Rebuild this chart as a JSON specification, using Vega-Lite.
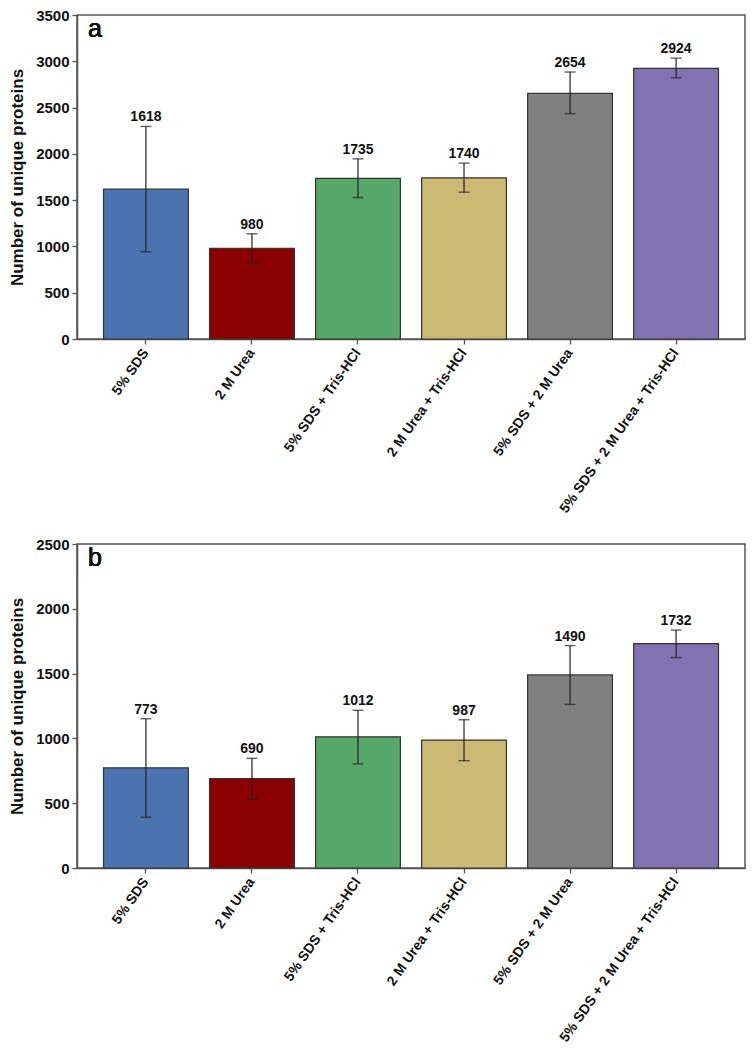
{
  "$schema": "https://vega.github.io/schema/vega-lite/v6.json",
  "padding": {"top": 7, "left": 7, "right": 5, "bottom": 5},
  "background": "white",
  "data": {"values": [
    {"panel": "a", "cond": "5% SDS", "n": 1618, "lo": 942, "hi": 2296},
    {"panel": "a", "cond": "2 M Urea", "n": 980, "lo": 823, "hi": 1137},
    {"panel": "a", "cond": "5% SDS + Tris-HCl", "n": 1735, "lo": 1528, "hi": 1946},
    {"panel": "a", "cond": "2 M Urea + Tris-HCl", "n": 1740, "lo": 1586, "hi": 1900},
    {"panel": "a", "cond": "5% SDS + 2 M Urea", "n": 2654, "lo": 2434, "hi": 2884},
    {"panel": "a", "cond": "5% SDS + 2 M Urea + Tris-HCl", "n": 2924, "lo": 2822, "hi": 3034},
    {"panel": "b", "cond": "5% SDS", "n": 773, "lo": 392, "hi": 1152},
    {"panel": "b", "cond": "2 M Urea", "n": 690, "lo": 533, "hi": 846},
    {"panel": "b", "cond": "5% SDS + Tris-HCl", "n": 1012, "lo": 803, "hi": 1217},
    {"panel": "b", "cond": "2 M Urea + Tris-HCl", "n": 987, "lo": 828, "hi": 1144},
    {"panel": "b", "cond": "5% SDS + 2 M Urea", "n": 1490, "lo": 1262, "hi": 1716},
    {"panel": "b", "cond": "5% SDS + 2 M Urea + Tris-HCl", "n": 1732, "lo": 1624, "hi": 1836}
  ]},
  "spacing": 19,
  "vconcat": [
    {
      "width": 668,
      "height": 324,
      "transform": [{"filter": "datum.panel === 'a'"}],
      "encoding": {
        "x": {"field": "cond", "type": "nominal", "sort": null,
          "scale": {"domain": ["5% SDS", "2 M Urea", "5% SDS + Tris-HCl", "2 M Urea + Tris-HCl", "5% SDS + 2 M Urea", "5% SDS + 2 M Urea + Tris-HCl"], "paddingInner": 0.2, "paddingOuter": 0.25},
          "axis": {"title": null, "labelAngle": -55, "labelFontSize": 14, "labelFont": "Liberation Sans", "labelFontWeight": "bold", "labelPadding": 6, "labelLimit": 300}}
      },
      "layer": [
        {"mark": {"type": "bar", "stroke": "#333333", "strokeWidth": 1.2},
         "encoding": {
           "y": {"field": "n", "type": "quantitative", "scale": {"domain": [0, 3500], "nice": false},
             "axis": {"title": "Number of unique proteins", "values": [0, 500, 1000, 1500, 2000, 2500, 3000, 3500], "format": "d",
               "labelFontSize": 15, "labelFont": "Liberation Sans", "labelFontWeight": "bold", "labelPadding": 3,
               "titleFontSize": 17, "titleFont": "Liberation Sans", "titleFontWeight": "bold", "titlePadding": 9}},
           "color": {"field": "cond", "type": "nominal", "legend": null,
             "scale": {"domain": ["5% SDS", "2 M Urea", "5% SDS + Tris-HCl", "2 M Urea + Tris-HCl", "5% SDS + 2 M Urea", "5% SDS + 2 M Urea + Tris-HCl"],
               "range": ["#4c72b0", "#8b0000", "#55a868", "#ccb974", "#808080", "#8172b2"]}}
         }},
        {"mark": {"type": "rule", "color": "#222222", "strokeWidth": 1.2},
         "encoding": {"y": {"field": "lo", "type": "quantitative"}, "y2": {"field": "hi"}}},
        {"mark": {"type": "tick", "color": "#222222", "thickness": 1.4, "size": 11},
         "encoding": {"y": {"field": "lo", "type": "quantitative"}}},
        {"mark": {"type": "tick", "color": "#222222", "thickness": 1.4, "size": 11},
         "encoding": {"y": {"field": "hi", "type": "quantitative"}}},
        {"mark": {"type": "text", "baseline": "bottom", "dy": -2, "fontWeight": "bold", "fontSize": 14, "font": "Liberation Sans", "color": "#111111"},
         "encoding": {"y": {"field": "hi", "type": "quantitative"}, "text": {"field": "n", "type": "quantitative"}}},
        {"mark": {"type": "text", "text": "a", "align": "left", "baseline": "alphabetic", "dx": -58, "dy": 22, "fontSize": 25, "fontWeight": "normal", "font": "Liberation Sans", "color": "#111111"},
         "encoding": {"x": {"datum": "5% SDS"}, "y": {"datum": 3500}}}
      ]
    },
    {
      "width": 668,
      "height": 324,
      "transform": [{"filter": "datum.panel === 'b'"}],
      "encoding": {
        "x": {"field": "cond", "type": "nominal", "sort": null,
          "scale": {"domain": ["5% SDS", "2 M Urea", "5% SDS + Tris-HCl", "2 M Urea + Tris-HCl", "5% SDS + 2 M Urea", "5% SDS + 2 M Urea + Tris-HCl"], "paddingInner": 0.2, "paddingOuter": 0.25},
          "axis": {"title": null, "labelAngle": -55, "labelFontSize": 14, "labelFont": "Liberation Sans", "labelFontWeight": "bold", "labelPadding": 6, "labelLimit": 300}}
      },
      "layer": [
        {"mark": {"type": "bar", "stroke": "#333333", "strokeWidth": 1.2},
         "encoding": {
           "y": {"field": "n", "type": "quantitative", "scale": {"domain": [0, 2500], "nice": false},
             "axis": {"title": "Number of unique proteins", "values": [0, 500, 1000, 1500, 2000, 2500], "format": "d",
               "labelFontSize": 15, "labelFont": "Liberation Sans", "labelFontWeight": "bold", "labelPadding": 3,
               "titleFontSize": 17, "titleFont": "Liberation Sans", "titleFontWeight": "bold", "titlePadding": 9}},
           "color": {"field": "cond", "type": "nominal", "legend": null,
             "scale": {"domain": ["5% SDS", "2 M Urea", "5% SDS + Tris-HCl", "2 M Urea + Tris-HCl", "5% SDS + 2 M Urea", "5% SDS + 2 M Urea + Tris-HCl"],
               "range": ["#4c72b0", "#8b0000", "#55a868", "#ccb974", "#808080", "#8172b2"]}}
         }},
        {"mark": {"type": "rule", "color": "#222222", "strokeWidth": 1.2},
         "encoding": {"y": {"field": "lo", "type": "quantitative"}, "y2": {"field": "hi"}}},
        {"mark": {"type": "tick", "color": "#222222", "thickness": 1.4, "size": 11},
         "encoding": {"y": {"field": "lo", "type": "quantitative"}}},
        {"mark": {"type": "tick", "color": "#222222", "thickness": 1.4, "size": 11},
         "encoding": {"y": {"field": "hi", "type": "quantitative"}}},
        {"mark": {"type": "text", "baseline": "bottom", "dy": -2, "fontWeight": "bold", "fontSize": 14, "font": "Liberation Sans", "color": "#111111"},
         "encoding": {"y": {"field": "hi", "type": "quantitative"}, "text": {"field": "n", "type": "quantitative"}}},
        {"mark": {"type": "text", "text": "b", "align": "left", "baseline": "alphabetic", "dx": -58, "dy": 22, "fontSize": 25, "fontWeight": "normal", "font": "Liberation Sans", "color": "#111111"},
         "encoding": {"x": {"datum": "5% SDS"}, "y": {"datum": 2500}}}
      ]
    }
  ],
  "config": {
    "view": {"stroke": "#555555", "strokeWidth": 1.5},
    "axis": {
      "grid": false,
      "domainColor": "#555555", "domainWidth": 1.5,
      "tickColor": "#555555", "tickWidth": 1.3, "tickSize": 5,
      "labelColor": "#111111", "titleColor": "#111111"
    }
  }
}
